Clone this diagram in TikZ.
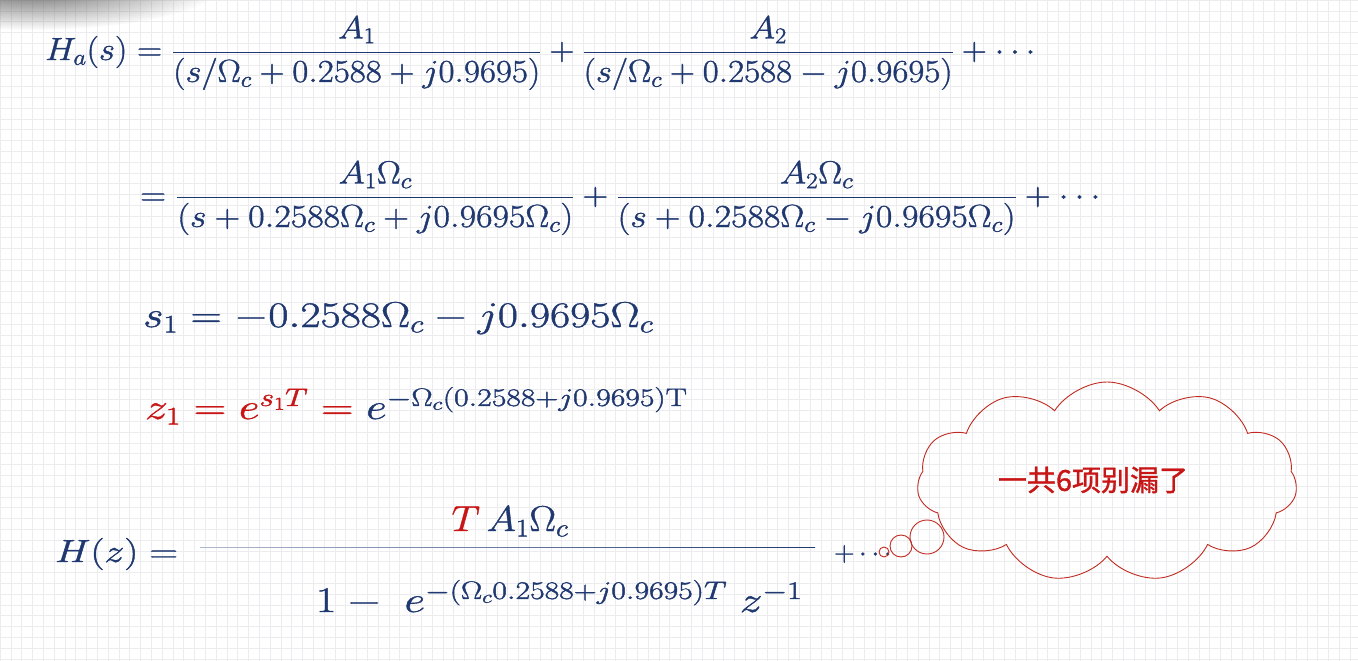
\RequirePackage{fix-cm}
\documentclass[tikz,border=0pt]{standalone}
\usepackage{graphicx}
\usepackage{fontspec}
\newfontfamily\cjk{Noto Sans CJK SC}
\usetikzlibrary{shapes.symbols, fadings}

\definecolor{eqblue}{RGB}{31,56,112}
\definecolor{eqred}{RGB}{200,22,22}
\definecolor{cloudred}{RGB}{192,42,32}
\definecolor{gridgray}{RGB}{236,236,238}

% wide, slightly heavy glyphs as on the slide
\newcommand{\stretchx}[2]{\scalebox{#1}[1]{\special{pdf:literal direct 2 Tr 0.35 w}#2\special{pdf:literal direct 0 Tr 0.4 w}}}
\tikzfading[name=softblob, inner color=transparent!0, outer color=transparent!100]

\begin{document}
\begin{tikzpicture}[
    x=1pt, y=-1pt,
    eq/.style = {
        text=eqblue,
        font=\fontsize{32}{38}\selectfont,
        anchor=base west,
        inner sep=0pt
    },
    big/.style = {
        eq,
        font=\fontsize{36}{42}\selectfont
    },
    bubble/.style = {
        circle,
        draw=cloudred,
        line width=0.9pt,
        inner sep=0pt
    },
    note/.style = {
        cloud,
        draw=cloudred,
        line width=0.9pt,
        cloud puffs=11,
        cloud puff arc=115,
        aspect=1.9,
        minimum width=380pt,
        minimum height=200pt
    },
    tip/.style = {
        text=eqred,
        inner sep=0pt,
        font=\cjk\fontsize{29}{34}\selectfont
    }
]

% Background with grid
\useasboundingbox (0,0) rectangle (1358,661);
\fill[white] (0,0) rectangle (1358,661);
\begin{scope}
\clip (0,0) rectangle (1358,661);
\draw[gridgray, line width=0.5pt] (0,0) grid[step=10.8pt] (1358,661);
\fill[black!60, path fading=softblob] (30,-14) ellipse [x radius=190, y radius=44];
\end{scope}

% Equations at explicit coordinates
\node[eq] (ha)  at (45,60)   {\stretchx{1.09}{$\displaystyle H_a(s)=\frac{A_1}{(s/\Omega_c+0.2588+j0.9695)}+\frac{A_2}{(s/\Omega_c+0.2588-j0.9695)}+\cdots$}};
\node[eq] (ha2) at (140,205) {\stretchx{1.12}{$\displaystyle =\frac{A_1\Omega_c}{(s+0.2588\Omega_c+j0.9695\Omega_c)}+\frac{A_2\Omega_c}{(s+0.2588\Omega_c-j0.9695\Omega_c)}+\cdots$}};
\node[big] (s1) at (143,327) {\stretchx{1.22}{$s_1=-0.2588\Omega_c-j0.9695\Omega_c$}};
\node[big] (z1) at (145,419) {\stretchx{1.26}{$\color{eqred}z_1=e^{s_1T}=\color{eqblue}e^{-\Omega_c(0.2588+j0.9695)\mathrm{T}}$}};

% H(z) with a long fraction line
\node[eq] (hz) at (55,562) {\stretchx{1.24}{$H(z)=$}};
\node[big, anchor=base] (num) at (510,531) {\stretchx{1.11}{${\color{eqred}T}\,A_1\Omega_c$}};
\node[big, anchor=base] (den) at (559,612) {\stretchx{1.26}{$1-\;e^{-(\Omega_c0.2588+j0.9695)T}\;z^{-1}$}};
\coordinate (barL) at (200,548);
\coordinate (barR) at (815,548);
\shade[left color=eqblue!35, right color=eqblue] (barL) ++(0,-0.7) rectangle ([yshift=0.7pt]barR);
\node[eq, font=\fontsize{28}{32}\selectfont] (more) at (834,561) {\stretchx{1}{$+\cdots$}};

% Thought cloud and its bubbles
\node[note] (cloud) at (1107,482) {};
\node[tip] (msg) at (1093,480) {\stretchx{1}{一共6项别漏了}};
\node[bubble, minimum size=10pt] (bub1) at (884,552) {};
\node[bubble, minimum size=22pt] (bub2) at (901,546) {};
\node[bubble, minimum size=34pt] (bub3) at (927,537) {};

\end{tikzpicture}
\end{document}
